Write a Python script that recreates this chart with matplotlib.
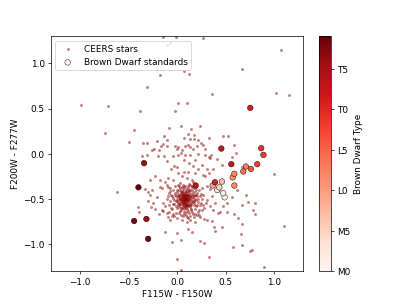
import numpy as np
import matplotlib
matplotlib.use("Agg")
import matplotlib.pyplot as plt

# CEERS stars: sparse halo (F115W-F150W, F200W-F277W)
ceers_halo = [
    (-0.14, 1.29), (-0.01, 1.29), (-0.106, 1.2), (-0.072, 1.23), (0.27, 1.285), (1.073, 1.144),
    (0.665, 0.938), (0.075, 0.922), (0.127, 0.889), (-0.175, 0.878), (-0.309, 0.739), (0.36, 0.657),
    (1.022, 0.676), (1.155, 0.653), (-0.988, 0.539), (-0.71, 0.531), (0.01, 0.56), (0.10, 0.565),
    (-0.02, 0.47), (-0.377, 0.47), (-0.744, 0.233), (-0.439, 0.269), (-0.497, 0.137), (-0.617, -0.424),
    (-0.086, 0.281), (0.041, 0.310), (0.144, 0.277), (0.240, 0.306), (0.117, 0.221), (0.178, 0.214),
    (0.075, 0.177), (0.175, 0.170), (0.130, 0.170), (0.219, 0.159), (-0.130, 0.196), (-0.103, 0.151),
    (-0.350, 0.122), (-0.305, 0.122), (-0.202, 0.140), (-0.147, 0.114), (-0.237, 0.055), (-0.182, 0.041),
    (-0.165, 0.085), (-0.099, 0.085), (-0.021, 0.092), (0.014, 0.078), (0.0, 0.055), (0.048, 0.048),
    (0.082, 0.085), (0.110, 0.103), (0.134, 0.074), (0.168, 0.055), (0.202, 0.085), (0.247, 0.122),
    (0.271, 0.103), (0.288, 0.055), (0.326, 0.177), (-0.261, 0.048), (-0.360, -0.026), (-0.312, -0.007),
    (-0.192, -0.026), (-0.137, -0.018), (-0.045, -0.018), (0.007, -0.015), (0.041, 0.011), (0.082, -0.007),
    (0.134, -0.015), (0.219, 0.0), (0.285, -0.007), (0.346, -0.007), (0.408, -0.055), (0.343, -0.044),
    (-0.103, -0.081), (0.075, -0.063), (0.185, -0.066), (0.127, -0.100), (0.168, -0.129), (-0.027, -0.129),
    (-0.003, -0.144), (-0.062, -0.166), (0.254, -0.118), (0.219, -0.166), (0.305, -0.166), (0.367, -0.166),
    (0.329, -0.210), (0.069, -0.203), (0.014, -0.210), (0.117, -0.203), (0.185, -0.210), (-0.089, -0.266),
    (-0.175, -0.284), (-0.226, -0.247), (-0.278, -0.284), (-0.038, -0.292), (0.048, -0.247), (0.099, -0.266),
    (0.151, -0.284), (0.264, -0.236), (0.291, -0.247), (-0.261, -0.395), (-0.329, -0.388), (-0.158, -0.377),
    (-0.072, -0.413), (-0.106, -0.340), (0.007, -0.340), (0.305, -0.358), (0.340, -0.388), (0.425, -0.402),
    (0.470, 0.196), (0.528, 0.203), (0.590, 0.100), (0.603, 0.007), (0.566, -0.030), (0.460, -0.126),
    (0.669, -0.144), (1.001, -0.218), (0.326, -0.03),
    (-0.398, -0.591), (-0.267, -0.587), (-0.226, -0.605), (-0.302, -0.524), (-0.391, -0.642), (-0.185, -0.661),
    (-0.141, -0.635), (-0.089, -0.697), (-0.055, -0.683), (-0.243, -0.546), (-0.209, -0.472), (-0.175, -0.362),
    (-0.123, -0.306), (-0.096, -0.362), (-0.141, -0.546), (-0.28, -0.45), (-0.295, -0.417), (-0.158, -0.62),
    (-0.106, -0.657), (-0.072, -0.731),
    (0.048, -0.727), (0.099, -0.757), (0.117, -0.709), (0.185, -0.757), (0.237, -0.698), (0.278, -0.716),
    (0.305, -0.727), (0.364, -0.746), (0.418, -0.653), (-0.120, -0.864), (-0.003, -0.875), (-0.055, -0.978),
    (0.038, -0.952), (0.117, -0.831), (0.151, -0.864), (0.233, -0.960), (0.278, -0.986), (0.388, -0.849),
    (0.329, -1.144), (0.0, -1.159), (0.038, -1.281),
    (0.305, -0.506), (0.34, -0.58), (0.39, -0.54), (0.357, -0.469), (0.254, -0.620), (0.374, -0.620),
    (0.442, -0.639), (0.511, -0.546), (0.562, -0.472), (0.614, -0.399), (0.672, -0.775), (0.381, -0.805),
    (0.713, -0.45), (0.727, -0.535), (0.806, -0.543), (0.669, -0.565), (0.779, -0.617), (0.799, -0.661),
    (0.586, -0.661), (0.511, -0.642), (0.631, -0.712), (0.47, -0.572), (0.463, -0.805), (1.098, -0.794),
    (0.655, -0.886), (0.669, -1.004), (0.579, -1.033), (0.751, -1.07), (0.768, -1.06), (0.892, -1.251),
]

# CEERS stars: dense clump
ceers_core = [
    (0.08, -0.50), (0.06, -0.48), (0.10, -0.52), (0.05, -0.53), (0.11, -0.47), (0.07, -0.45), (0.09, -0.55),
    (0.03, -0.50), (0.13, -0.50), (0.08, -0.43), (0.04, -0.46), (0.12, -0.54), (0.06, -0.57), (0.10, -0.44),
    (0.02, -0.54), (0.14, -0.46), (0.09, -0.49), (0.07, -0.52), (0.05, -0.44), (0.11, -0.58), (0.01, -0.48),
    (0.15, -0.53), (0.08, -0.59), (0.12, -0.42), (0.03, -0.57), (0.06, -0.41), (0.13, -0.57), (0.00, -0.52),
    (0.16, -0.49), (0.10, -0.61),
    (-0.02, -0.45), (0.18, -0.45), (0.17, -0.56), (-0.01, -0.58), (0.04, -0.62), (0.14, -0.62), (0.09, -0.39),
    (0.02, -0.40), (0.15, -0.40), (0.19, -0.51), (-0.03, -0.51), (0.07, -0.64), (0.12, -0.65), (0.20, -0.58),
    (-0.04, -0.55), (0.00, -0.42), (0.17, -0.38), (0.05, -0.37), (0.11, -0.36), (0.21, -0.47), (-0.05, -0.47),
    (0.02, -0.65), (0.16, -0.66), (0.22, -0.53), (-0.06, -0.60), (0.08, -0.35), (0.13, -0.34), (0.23, -0.62),
    (-0.02, -0.36), (0.19, -0.35),
    (-0.08, -0.43), (0.25, -0.44), (0.24, -0.57), (-0.08, -0.56), (0.06, -0.69), (0.17, -0.70), (-0.04, -0.66),
    (0.26, -0.50), (-0.10, -0.50), (0.10, -0.70), (0.28, -0.60), (0.00, -0.71), (0.21, -0.68), (-0.07, -0.38),
    (0.26, -0.38), (0.03, -0.32), (0.16, -0.31), (0.30, -0.54), (-0.12, -0.58), (0.13, -0.73),
    (0.07, -0.49), (0.09, -0.47), (0.06, -0.51), (0.10, -0.50), (0.08, -0.53), (0.05, -0.49), (0.11, -0.52),
    (0.07, -0.47), (0.09, -0.51), (0.04, -0.51), (0.12, -0.49), (0.08, -0.46), (0.06, -0.54), (0.10, -0.55),
    (0.03, -0.47), (0.13, -0.48), (0.07, -0.56), (0.11, -0.45), (0.05, -0.42), (0.09, -0.57),
]

# CEERS stars: innermost, most crowded part of the clump
ceers_center = [
    (0.075, -0.495), (0.085, -0.505), (0.065, -0.505), (0.095, -0.495), (0.080, -0.485), (0.070, -0.515),
    (0.090, -0.480), (0.060, -0.470), (0.100, -0.470), (0.105, -0.510), (0.055, -0.520), (0.085, -0.530),
    (0.115, -0.500), (0.045, -0.500), (0.075, -0.540), (0.095, -0.540), (0.065, -0.460), (0.110, -0.485),
    (0.050, -0.480), (0.120, -0.520), (0.040, -0.530), (0.080, -0.450), (0.100, -0.455), (0.060, -0.550),
    (0.105, -0.560), (0.130, -0.470), (0.030, -0.490), (0.140, -0.510), (0.070, -0.430), (0.090, -0.425),
    (0.050, -0.445), (0.125, -0.445), (0.035, -0.555), (0.120, -0.565), (0.080, -0.575), (0.150, -0.480),
    (0.020, -0.510), (0.145, -0.540), (0.025, -0.465), (0.060, -0.590), (0.095, -0.595), (0.110, -0.410),
    (0.045, -0.415), (0.160, -0.520), (0.010, -0.540), (0.135, -0.590), (0.015, -0.440), (0.170, -0.470),
    (0.075, -0.615), (0.120, -0.395), (0.040, -0.600), (0.155, -0.430), (0.000, -0.500), (0.175, -0.545),
    (0.090, -0.640), (0.060, -0.390), (0.145, -0.610), (0.020, -0.590), (0.185, -0.500), (-0.010, -0.470),
]

# CEERS stars: crowded ring around the centre of the clump
ceers_ring = [
    (0.00, -0.40), (0.03, -0.38), (0.07, -0.37), (0.11, -0.38), (0.15, -0.37), (0.19, -0.40), (0.21, -0.43),
    (-0.02, -0.43), (-0.04, -0.49), (-0.03, -0.55), (0.00, -0.60), (0.03, -0.63), (0.07, -0.66), (0.11, -0.63),
    (0.15, -0.64), (0.18, -0.61), (0.21, -0.57), (0.22, -0.50), (0.20, -0.46), (0.17, -0.42), (0.13, -0.40),
    (0.09, -0.41), (0.04, -0.42), (0.01, -0.45), (-0.01, -0.52), (0.01, -0.57), (0.05, -0.60), (0.10, -0.58),
    (0.14, -0.57), (0.17, -0.52), (0.16, -0.45), (0.02, -0.36), (0.12, -0.33), (0.18, -0.33), (0.23, -0.40),
    (0.24, -0.47), (0.25, -0.54), (0.22, -0.64), (0.18, -0.67), (0.09, -0.68), (0.04, -0.68), (-0.01, -0.65),
    (-0.05, -0.61), (-0.07, -0.52), (-0.06, -0.45), (-0.04, -0.40), (0.06, -0.34), (0.15, -0.35), (0.20, -0.37),
    (0.27, -0.45), (0.27, -0.56), (0.23, -0.68), (0.13, -0.69), (-0.03, -0.69), (-0.08, -0.64), (-0.09, -0.47),
]

# Brown dwarf standards
bd_x = [0.49, 0.475, 0.415, 0.435, 0.463, 0.367, 0.59, 0.573, 0.59, 0.682, 0.71, 0.761, 0.826,
        0.867, 0.89, 0.754, 0.559, 0.456, 0.39, 0.192, -0.34, -0.316, -0.398, -0.442, -0.298]
bd_y = [-0.48, -0.435, -0.40, -0.37, -0.306, -0.35, -0.35, -0.26, -0.22, -0.195, -0.14, -0.166, -0.114,
        0.063, -0.011, 0.509, -0.114, 0.059, -0.314, -0.35, -0.103, -0.72, -0.37, -0.742, -0.94]
bd_type = [0, 2, 3, 5, 7, 9, 12, 11, 12, 14, 13, 16, 18, 19, 18, 21, 22, 22, 21, 23, 26, 26, 29, 28, 28]

type_ticks = [0, 5, 10, 15, 20, 25]
type_labels = ["M0", "M5", "L0", "L5", "T0", "T5"]

groups = [np.array(g) for g in (ceers_halo, ceers_core, ceers_center, ceers_ring)]
cx = np.concatenate([g[:, 0] for g in groups])
cy = np.concatenate([g[:, 1] for g in groups])

fig, ax = plt.subplots(figsize=(6.4, 4.8), dpi=63.6)
ax.scatter(cx, cy, s=11, color="darkred", alpha=0.5, linewidths=0, label="CEERS stars")
sc = ax.scatter(bd_x, bd_y, c=bd_type, cmap="Reds", vmin=0, vmax=29, s=40,
                edgecolors="k", linewidths=0.5, label="Brown Dwarf standards")
ax.set_xlim(-1.3, 1.3)
ax.set_ylim(-1.3, 1.3)
ax.set_xlabel("F115W - F150W")
ax.set_ylabel("F200W - F277W")
ax.legend(loc="upper left")

cb = fig.colorbar(sc, ax=ax)
cb.set_ticks(type_ticks)
cb.set_ticklabels(type_labels)
cb.set_label("Brown Dwarf Type")

fig.savefig("out.png", dpi=63.6)
